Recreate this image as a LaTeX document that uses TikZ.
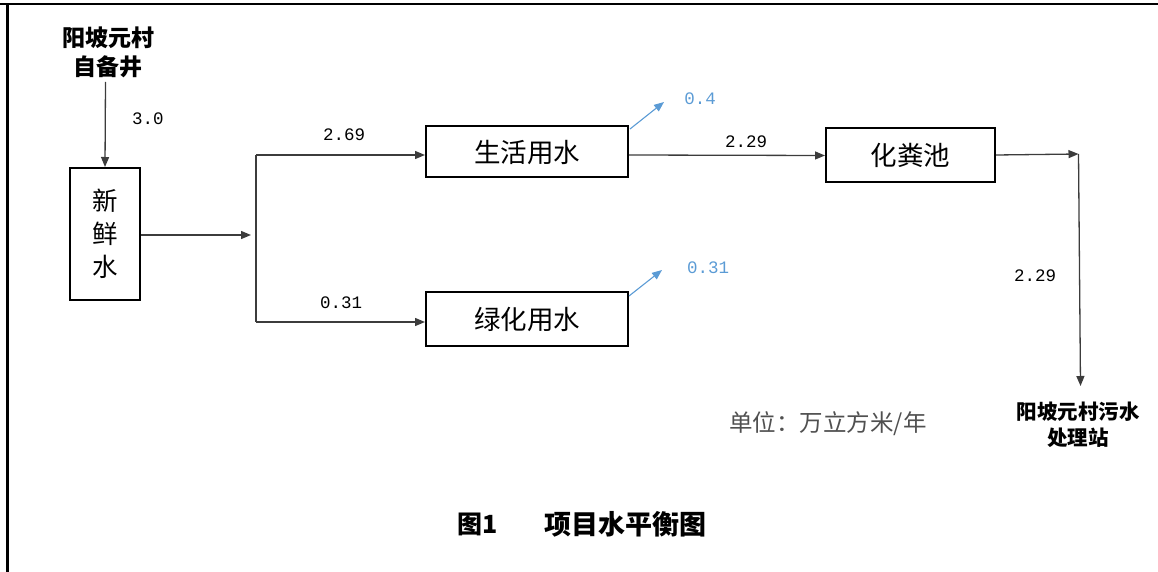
\documentclass[tikz,border=0pt]{standalone}
\usepackage{fontspec}
\setmainfont{Liberation Serif}
\newfontfamily\cjk{Noto Sans CJK SC}
\newfontfamily\numfont{Liberation Mono}
\usetikzlibrary{arrows.meta}
\definecolor{lineg}{HTML}{3C3C3C}
\definecolor{evap}{HTML}{5B9BD5}
\definecolor{unitg}{HTML}{505050}
\tikzset{
  box/.style={draw=black, line width=2pt, minimum width=#1, inner sep=0pt, font=\cjk\fontsize{26.5}{30}\selectfont},
  flow/.style={draw=lineg, line width=1.3pt, -{Triangle[length=10pt,width=8pt]}},
  plain/.style={draw=lineg, line width=1.3pt},
  evflow/.style={draw=evap, line width=1.1pt, -{Triangle[length=10pt,width=8pt]}},
  num/.style={font=\numfont\fontsize{17.5}{20}\selectfont, text=black, inner sep=0pt},
  evnum/.style={num, text=evap},
  titletext/.style={font=\cjk\bfseries\fontsize{23}{29}\selectfont, align=center, inner sep=0pt},
}
\begin{document}
\begin{tikzpicture}[x=1pt,y=-1pt]
\useasboundingbox (0,0) rectangle (1158,572);
% frame
\draw[line width=2pt] (0,4.5) -- (1158,4.5);
\draw[line width=2.2pt] (7.5,4) -- (7.5,572);
% source
\node[titletext] (src) at (108,52) {阳坡元村\\自备井};
\node[box=70pt, minimum height=132pt, align=center, font=\cjk\fontsize{25.5}{33}\selectfont] (fresh) at (105,234) {新\\鲜\\水};
\coordinate (srcout) at (105.5,82);
\draw[flow] (srcout) -- (fresh.north);
\node[num] (n30) at (148,119) {3.0};
% split
\coordinate (jin) at (251,235);
\coordinate (jt) at (256,155);
\coordinate (jb) at (256,322);
\draw[flow] (fresh.east |- jin) -- (jin);
\draw[plain] (jt) -- (jb);
% boxes
\node[box=202pt, minimum height=51pt] (life) at (527,152) {生活用水};
\node[box=202pt, minimum height=54pt] (green) at (527,319) {绿化用水};
\node[box=169pt, minimum height=54pt] (septic) at (910.5,155) {化粪池};
\draw[flow] (jt) -- (jt -| life.west);
\draw[flow] (jb) -- (jb -| green.west);
\node[num] (n269) at (344,135) {2.69};
\node[num] (n031) at (341,303) {0.31};
% evaporation
\coordinate (ev1s) at (630,129);
\coordinate (ev1e) at (664,102);
\coordinate (ev2s) at (629,296);
\coordinate (ev2e) at (662,270);
\draw[evflow] (ev1s) -- (ev1e);
\draw[evflow] (ev2s) -- (ev2e);
\node[evnum] (e04) at (700,99) {0.4};
\node[evnum] (e031) at (708,268) {0.31};
% to septic
\draw[flow] (life.east |- 0,155) -- (septic.west |- 0,155.5);
\node[num] (n229a) at (746,142) {2.29};
% out
\coordinate (turn) at (1078.5,154);
\coordinate (down) at (1080.5,386);
\draw[flow] (septic.east) -- (turn);
\draw[flow] (turn) -- (down);
\node[num] (n229b) at (1035,276) {2.29};
\node[titletext, font=\cjk\bfseries\fontsize{20.5}{26}\selectfont] (dest) at (1078,425) {阳坡元村污水\\处理站};
% unit
\node[font=\cjk\fontsize{23.5}{26}\selectfont, text=unitg, inner sep=0pt] (unit) at (828,424) {单位：万立方米/年};
% caption
\node[font=\cjk\bfseries\fontsize{25}{30}\selectfont, inner sep=0pt] (cap1) at (478,524) {图1};
\node[font=\cjk\bfseries\fontsize{27}{30}\selectfont, inner sep=0pt] (cap2) at (625,524) {项目水平衡图};
\end{tikzpicture}
\end{document}
